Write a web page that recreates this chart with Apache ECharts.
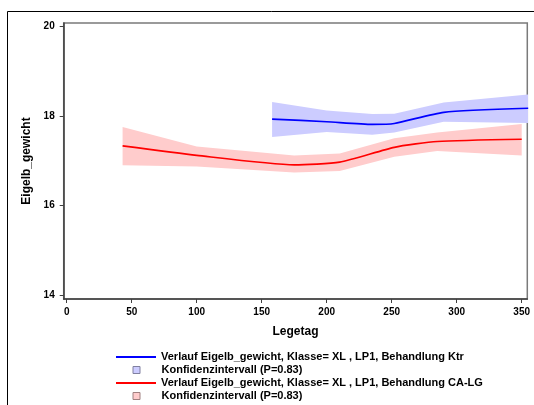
<!DOCTYPE html>
<html><head><meta charset="utf-8">
<script src="https://cdn.jsdelivr.net/npm/echarts@6/dist/echarts.min.js"></script>
<style>html,body{margin:0;padding:0;background:#fff}#c{width:534px;height:405px}</style>
</head><body><div id="c"></div>
<script>
const xTicks = [0, 50, 100, 150, 200, 250, 300, 350];
const yTicks = [14, 16, 18, 20];

const blueX     = [158, 200, 235, 252, 290, 355];
const blueMean  = [17.93, 17.87, 17.81, 17.83, 18.08, 18.17];
const blueLower = [17.53, 17.64, 17.58, 17.63, 17.87, 17.84];
const blueUpper = [18.31, 18.12, 18.04, 18.05, 18.30, 18.48];

const redX     = [43, 100, 175, 210, 252, 285, 350];
const redMean  = [17.33, 17.12, 16.91, 16.97, 17.30, 17.43, 17.48];
const redLower = [16.90, 16.87, 16.74, 16.77, 17.09, 17.22, 17.12];
const redUpper = [17.75, 17.32, 17.12, 17.16, 17.50, 17.63, 17.82];

const nameKtr = 'Verlauf Eigelb_gewicht, Klasse= XL , LP1, Behandlung Ktr';
const nameCA  = 'Verlauf Eigelb_gewicht, Klasse= XL , LP1, Behandlung CA-LG';
const nameCI1 = 'Konfidenzintervall (P=0.83)';
const nameCI2 = 'Konfidenzintervall (P=0.83) ';

const FONT = '"Liberation Sans", Arial, Helvetica, sans-serif';
const BLUE = '#0000ff', RED = '#ff0000';
const BLUE_BAND = '#ccccff', RED_BAND = '#ffcccc';

function bandSeries(name, xs, lo, hi, color) {
  const data = xs.map((x, i) => [x, lo[i], hi[i]]);
  return {
    type: 'custom', name: name, data: data, clip: true, z: 1,
    encode: { x: 0, y: [1, 2] },
    itemStyle: { color: color },
    renderItem: function (params, api) {
      if (params.dataIndex !== 0) return null;
      const pts = [];
      for (let i = 0; i < xs.length; i++) pts.push(api.coord([xs[i], hi[i]]));
      for (let i = xs.length - 1; i >= 0; i--) pts.push(api.coord([xs[i], lo[i]]));
      return { type: 'polygon', shape: { points: pts }, style: { fill: color } };
    }
  };
}
function lineSeries(name, xs, ys, color) {
  return {
    type: 'line', name: name, data: xs.map((x, i) => [x, ys[i]]),
    symbol: 'none', smooth: 0.2, z: 3, clip: true,
    lineStyle: { color: color, width: 1.7 }, itemStyle: { color: color }
  };
}
const legendText = { fontFamily: FONT, fontWeight: 'bold', fontSize: 11, color: '#000', lineHeight: 12 };
function lineLegend(name, cy, color) {
  return { show: true, orient: 'vertical', left: 116, top: cy - 6, padding: 0,
    itemWidth: 40, itemHeight: 2, selectedMode: false,
    data: [{ name: name, icon: 'rect', itemStyle: { color: color, borderWidth: 0 } }],
    textStyle: legendText };
}
function boxLegend(name, cy, fill, border) {
  return { show: true, orient: 'vertical', left: 132.5, top: cy - 6, padding: 0,
    itemWidth: 7, itemHeight: 7, selectedMode: false,
    data: [{ name: name, icon: 'rect', itemStyle: { color: fill, borderColor: border, borderWidth: 1 } }],
    textStyle: Object.assign({}, legendText, { padding: [0, 0, 0, 16.5] }) };
}
const axisLabelStyle = { fontFamily: FONT, fontWeight: 'bold', fontSize: 10, color: '#000' };
const nameStyle = { fontFamily: FONT, fontWeight: 'bold', fontSize: 12, color: '#000' };

const chart = echarts.init(document.getElementById('c'), null, { renderer: 'canvas' });
chart.setOption({
  animation: false,
  graphic: [{ type: 'rect', silent: true, z: -10,
    shape: { x: 7.5, y: 11.5, width: 540, height: 420 },
    style: { fill: 'none', stroke: '#000', lineWidth: 1 } }],
  grid: { left: 63.7, right: 6.7, top: 23, bottom: 106, show: true, borderColor: '#7a7a7a', borderWidth: 1.5 },
  xAxis: {
    type: 'value', min: -2.3, max: 354.3,
    name: 'Legetag', nameLocation: 'middle', nameGap: 27, nameTextStyle: nameStyle,
    axisLine: { show: true, onZero: false, lineStyle: { color: '#404040', width: 1.5 } },
    axisTick: { show: true, length: 4, customValues: xTicks, lineStyle: { color: '#404040' } },
    axisLabel: Object.assign({ customValues: xTicks, margin: 8 }, axisLabelStyle),
    splitLine: { show: false }
  },
  yAxis: {
    type: 'value', min: 13.92, max: 20.07,
    name: 'Eigelb_gewicht', nameLocation: 'middle', nameGap: 30, nameRotate: 90, nameTextStyle: nameStyle,
    axisLine: { show: true, onZero: false, lineStyle: { color: '#404040', width: 1.5 } },
    axisTick: { show: true, length: 4, customValues: yTicks, lineStyle: { color: '#404040' } },
    axisLabel: Object.assign({ customValues: yTicks, margin: 9 }, axisLabelStyle),
    splitLine: { show: false }
  },
  legend: [
    lineLegend(nameKtr, 357, BLUE),
    boxLegend(nameCI1, 370, BLUE_BAND, '#8080a0'),
    lineLegend(nameCA, 383, RED),
    boxLegend(nameCI2, 396, RED_BAND, '#a08080')
  ],
  series: [
    bandSeries(nameCI1, blueX, blueLower, blueUpper, BLUE_BAND),
    bandSeries(nameCI2, redX, redLower, redUpper, RED_BAND),
    lineSeries(nameKtr, blueX, blueMean, BLUE),
    lineSeries(nameCA, redX, redMean, RED)
  ]
});
</script>
</body></html>
